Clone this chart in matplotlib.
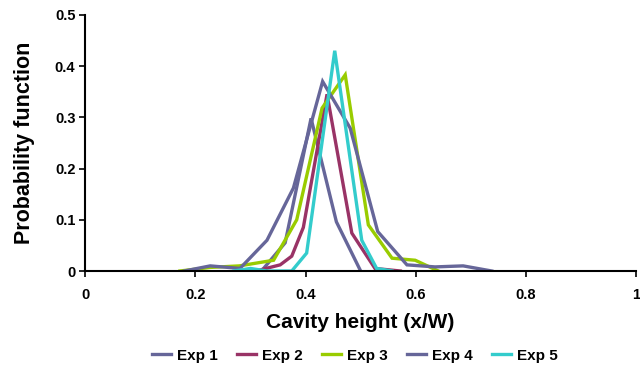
import matplotlib
matplotlib.use('Agg')
import matplotlib.pyplot as plt

plt.rcParams['font.family'] = ['Liberation Sans', 'DejaVu Sans']
plt.rcParams['font.weight'] = 'bold'

# readings from the reference picture
x1 = [0.32, 0.363, 0.41, 0.456, 0.50]
y1 = [0.0, 0.055, 0.298, 0.096, 0.0]

x2 = [0.31, 0.354, 0.375, 0.396, 0.439, 0.484, 0.526, 0.572]
y2 = [0.0, 0.012, 0.029, 0.085, 0.345, 0.074, 0.005, 0.0]

x3 = [0.172, 0.227, 0.28, 0.342, 0.384, 0.43, 0.472, 0.514, 0.557, 0.599, 0.641]
y3 = [0.0, 0.007, 0.01, 0.021, 0.10, 0.318, 0.383, 0.09, 0.025, 0.021, 0.0]

x4 = [0.18, 0.227, 0.281, 0.33, 0.378, 0.431, 0.481, 0.531, 0.584, 0.635, 0.686, 0.738]
y4 = [0.0, 0.01, 0.005, 0.06, 0.162, 0.37, 0.279, 0.077, 0.012, 0.008, 0.01, 0.0]

x5 = [0.27, 0.30, 0.33, 0.375, 0.402, 0.453, 0.502, 0.529, 0.557]
y5 = [0.0, 0.005, 0.0, 0.0, 0.035, 0.43, 0.06, 0.005, 0.0]

names = ['Exp 1', 'Exp 2', 'Exp 3', 'Exp 4', 'Exp 5']
colors = ['#666699', '#993366', '#99CC00', '#666699', '#33CCCC']
xs = [x1, x2, x3, x4, x5]
ys = [y1, y2, y3, y4, y5]

fig = plt.figure(figsize=(6.4, 3.72), dpi=100)
ax = fig.add_axes([0.133, 0.2715, 0.861, 0.6885])

for x, y, c, n in zip(xs, ys, colors, names):
    ax.plot(x, y, color=c, lw=2.4, label=n, solid_joinstyle='miter')

ax.set_xlim(0, 1)
ax.set_ylim(0, 0.5)
ax.set_xticks([0, 0.2, 0.4, 0.6, 0.8, 1])
ax.set_xticklabels(['0', '0.2', '0.4', '0.6', '0.8', '1'])
ax.set_yticks([0, 0.1, 0.2, 0.3, 0.4, 0.5])
ax.set_yticklabels(['0', '0.1', '0.2', '0.3', '0.4', '0.5'])
ax.tick_params(direction='out', length=4, width=1.2, labelsize=10.5)
ax.tick_params(axis='x', pad=8)
ax.tick_params(axis='y', pad=3)
for s in ['top', 'right']:
    ax.spines[s].set_visible(False)
for s in ['left', 'bottom']:
    ax.spines[s].set_linewidth(1.5)
ax.set_xlabel('Cavity height (x/W)', fontsize=15, fontweight='bold', labelpad=8)
ax.set_ylabel('Probability function', fontsize=15.5, fontweight='bold', labelpad=14)

ax.legend(loc='center', bbox_to_anchor=(0.49, -0.33), ncol=5, frameon=False,
          fontsize=11, handlelength=1.25, columnspacing=1.25, handletextpad=0.4)

fig.savefig('out.png', dpi=100)
